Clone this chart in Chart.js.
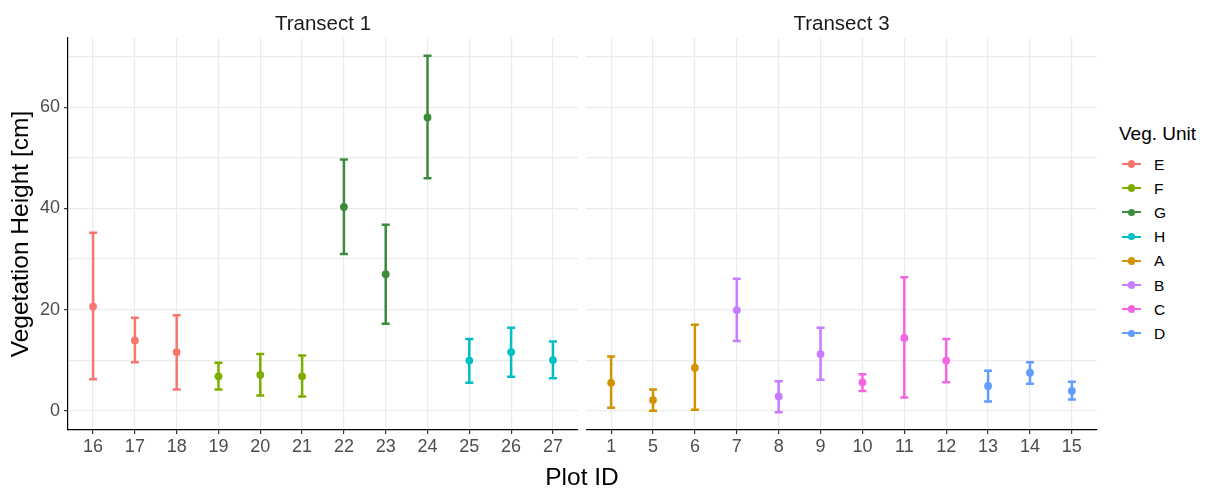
<!DOCTYPE html>
<html>
<head>
<meta charset="utf-8">
<script src="https://cdn.jsdelivr.net/npm/chart.js@4/dist/chart.umd.min.js"></script>
<style>
body { margin: 0; background: #fff; font-family: "Liberation Sans", Arial, sans-serif; }
#wrap { position: relative; width: 1207px; height: 494px; overflow: hidden; }
canvas { position: absolute; top: 0; }
.lbl { position: absolute; white-space: nowrap; line-height: 1; }
</style>
</head>
<body>
<div id="wrap">
  <canvas id="t1" width="580" height="494" style="left:0"></canvas>
  <canvas id="t3" width="513" height="494" style="left:586px"></canvas>
</div>
<script>
// vegetation units and their colours
var units = ["E", "F", "G", "H", "A", "B", "C", "D"];
var unitColors = ["#F8766D", "#7CAE00", "#3B8B3B", "#00BFC4", "#D39200", "#C77CFF", "#F564E3", "#619CFF"];

// Transect 1
var t1Plots = ["16", "17", "18", "19", "20", "21", "22", "23", "24", "25", "26", "27"];
var t1Units = ["E", "E", "E", "F", "F", "F", "G", "G", "G", "H", "H", "H"];
var t1Mean = [20.6, 13.9, 11.6, 6.8, 7.1, 6.8, 40.3, 27.0, 58.0, 9.9, 11.6, 10.0];
var t1Low  = [6.2, 9.6, 4.2, 4.2, 3.0, 2.8, 31.0, 17.2, 46.0, 5.5, 6.7, 6.4];
var t1High = [35.2, 18.4, 18.9, 9.5, 11.2, 10.9, 49.7, 36.8, 70.2, 14.2, 16.4, 13.7];

// Transect 3
var t3Plots = ["1", "5", "6", "7", "8", "9", "10", "11", "12", "13", "14", "15"];
var t3Units = ["A", "A", "A", "B", "B", "B", "C", "C", "C", "D", "D", "D"];
var t3Mean = [5.5, 2.1, 8.5, 19.9, 2.8, 11.2, 5.6, 14.4, 9.9, 4.9, 7.5, 3.9];
var t3Low  = [0.6, 0.0, 0.2, 13.8, -0.3, 6.1, 3.9, 2.6, 5.6, 1.8, 5.3, 2.2];
var t3High = [10.7, 4.2, 17.0, 26.1, 5.8, 16.4, 7.2, 26.4, 14.2, 7.9, 9.6, 5.7];

var yTicks = [0, 10, 20, 30, 40, 50, 60, 70];

// shared y range with 5% padding like ggplot
var allLo = Math.min.apply(null, t1Low.concat(t3Low));
var allHi = Math.max.apply(null, t1High.concat(t3High));
var pad = (allHi - allLo) * 0.05;
var yMin = allLo - pad, yMax = allHi + pad;

var GRID = "#EBEBEB";
var TICKTXT = "#4D4D4D";

function colorOf(u) { return unitColors[units.indexOf(u)]; }

function makeDatasets(plotUnits, means) {
  var ds = [];
  units.forEach(function (u) {
    var pts = [];
    plotUnits.forEach(function (pu, i) { if (pu === u) pts.push({ x: i + 1, y: means[i] }); });
    if (pts.length) ds.push({
      label: u, data: pts, backgroundColor: colorOf(u), borderColor: colorOf(u),
      pointRadius: 3.9, pointHoverRadius: 3.9, borderWidth: 0, showLine: false
    });
  });
  return ds;
}

// vertical error bars with caps, drawn under the points
function errorBars(plotUnits, lows, highs) {
  return {
    id: "errorBars",
    beforeDatasetsDraw: function (chart) {
      var ctx = chart.ctx, xs = chart.scales.x, ys = chart.scales.y;
      ctx.save();
      ctx.lineWidth = 2.5;
      ctx.lineCap = "butt";
      plotUnits.forEach(function (u, i) {
        var x = xs.getPixelForValue(i + 1);
        var y1 = ys.getPixelForValue(lows[i]);
        var y2 = ys.getPixelForValue(highs[i]);
        ctx.strokeStyle = colorOf(u);
        ctx.beginPath();
        ctx.moveTo(x, y1); ctx.lineTo(x, y2);
        ctx.moveTo(x - 4, y1); ctx.lineTo(x + 4, y1);
        ctx.moveTo(x - 4, y2); ctx.lineTo(x + 4, y2);
        ctx.stroke();
      });
      ctx.restore();
    }
  };
}

function panel(id, plots, plotUnits, means, lows, highs, first) {
  return new Chart(id, {
    type: "scatter",
    data: { datasets: makeDatasets(plotUnits, means) },
    plugins: [errorBars(plotUnits, lows, highs)],
    options: {
      responsive: false,
      animation: false,
      events: [],
      layout: { autoPadding: false, padding: { top: 38, right: 2, left: 0, bottom: 0 } },
      plugins: { legend: { display: false }, tooltip: { enabled: false } },
      scales: {
        x: {
          type: "linear", min: 0.4, max: plots.length + 0.6,
          afterBuildTicks: function (s) { s.ticks = plots.map(function (p, i) { return { value: i + 1 }; }); },
          afterFit: function (s) { s.height = 64; },
          ticks: {
            callback: function (v) { return plots[v - 1]; },
            font: { family: "Liberation Sans", size: 18 }, color: TICKTXT, padding: 2, maxRotation: 0
          },
          grid: { color: GRID, lineWidth: 1.2, tickColor: "#333", tickLength: 4 },
          border: { display: true, color: "#000", width: 1.2 }
        },
        y: {
          min: yMin, max: yMax,
          afterBuildTicks: function (s) { s.ticks = yTicks.map(function (v) { return { value: v }; }); },
          afterFit: function (s) { s.width = first ? 68 : 0; },
          ticks: {
            display: first,
            callback: function (v) { return v % 20 === 0 ? v : ""; },
            font: { family: "Liberation Sans", size: 18 }, color: TICKTXT, padding: 4
          },
          grid: {
            color: GRID, lineWidth: 1.2, drawTicks: first, tickLength: 4,
            tickColor: function (c) { return c.tick && c.tick.value % 20 === 0 ? "#333" : "rgba(0,0,0,0)"; }
          },
          border: { display: first, color: "#000", width: 1.2 },
          title: {
            display: first, text: "Vegetation Height [cm]", color: "#000",
            font: { family: "Liberation Sans", size: 24.5 }, padding: { top: 7, bottom: 0 }
          }
        }
      }
    }
  });
}

panel("t1", t1Plots, t1Units, t1Mean, t1Low, t1High, true);
panel("t3", t3Plots, t3Units, t3Mean, t3Low, t3High, false);

// facet strips, shared x title and legend
var wrap = document.getElementById("wrap");
function addText(txt, left, top, size, color, center) {
  var d = document.createElement("div");
  d.className = "lbl";
  d.textContent = txt;
  d.style.left = left + "px";
  d.style.top = top + "px";
  d.style.fontSize = size + "px";
  d.style.color = color;
  if (center) d.style.transform = "translateX(-50%)";
  wrap.appendChild(d);
  return d;
}
addText("Transect 1", 323, 12.6, 20.5, "#1A1A1A", true);
addText("Transect 3", 841.5, 12.6, 20.5, "#1A1A1A", true);
addText("Plot ID", 582, 465.3, 24.5, "#000", true);
addText("Veg. Unit", 1119, 124, 19, "#000", false);

units.forEach(function (u, i) {
  var cy = 164 + i * 24.2;
  var line = document.createElement("div");
  line.style.cssText = "position:absolute;left:1122px;width:19px;height:2.2px;top:" + (cy - 1.1) + "px;background:" + unitColors[i];
  wrap.appendChild(line);
  var dot = document.createElement("div");
  dot.style.cssText = "position:absolute;left:" + (1131.5 - 3.8) + "px;top:" + (cy - 3.8) + "px;width:7.6px;height:7.6px;border-radius:50%;background:" + unitColors[i];
  wrap.appendChild(dot);
  addText(u, 1154, cy - 7.5, 15.5, "#000", false);
});
</script>
</body>
</html>
